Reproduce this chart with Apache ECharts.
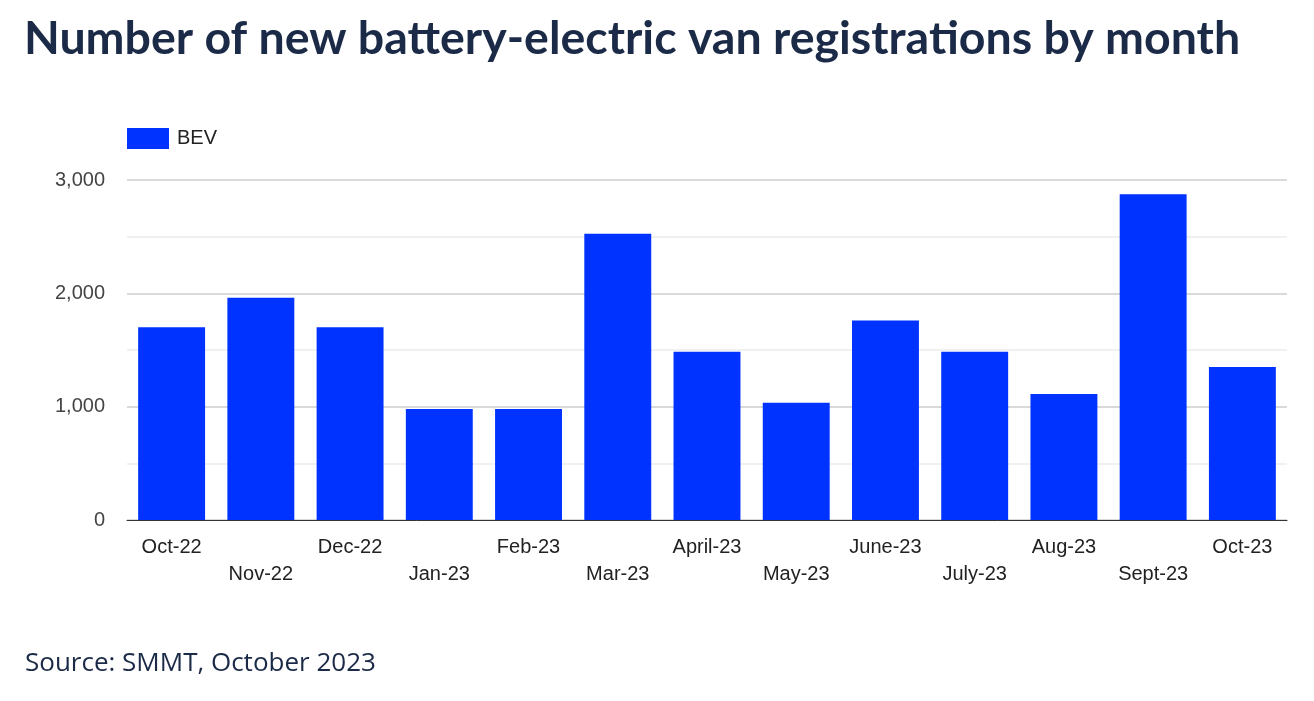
<!DOCTYPE html>
<html><head><meta charset="utf-8">
<script src="https://cdn.jsdelivr.net/npm/echarts@6/dist/echarts.min.js"></script>
<style>html,body{margin:0;padding:0;background:#fff}#c{width:1314px;height:701px}</style>
</head><body><div id="c"></div>
<script>
const categories = ['Oct-22','Nov-22','Dec-22','Jan-23','Feb-23','Mar-23','April-23','May-23','June-23','July-23','Aug-23','Sept-23','Oct-23'];
const bevValues = [1700, 1960, 1700, 980, 980, 2525, 1485, 1035, 1760, 1485, 1112, 2875, 1350];
const yTicks = [0, 1000, 2000, 3000];
const titleText = 'Number of new battery-electric van registrations by month';
const sourceText = 'Source: SMMT, October 2023';

const chart = echarts.init(document.getElementById('c'));
chart.setOption({
  animation: false,
  backgroundColor: '#fff',
  title: [
    { text: titleText, left: 19, top: 10,
      textStyle: { fontFamily: 'Lato', fontWeight: 'bold', fontSize: 46.5, color: '#1b2a47' } },
    { text: sourceText, left: 20, top: 646,
      textStyle: { fontFamily: 'Open Sans', fontWeight: 400, fontSize: 26, color: '#1b2a47' } }
  ],
  legend: {
    left: 122, top: 123, itemWidth: 42, itemHeight: 21, itemGap: 13,
    icon: 'rect',
    textStyle: { fontFamily: 'Liberation Sans', fontSize: 20, color: '#222', padding: [0, 0, 0, 3] },
    data: ['BEV']
  },
  grid: { left: 127, right: 27, top: 180, bottom: 181, containLabel: false },
  xAxis: {
    type: 'category', data: categories,
    axisLine: { lineStyle: { color: '#333', width: 1 } },
    axisTick: { show: false },
    axisLabel: {
      interval: 0, margin: 14,
      fontFamily: 'Liberation Sans', fontSize: 20, color: '#222', lineHeight: 27,
      formatter: (v, i) => (i % 2 === 1 ? '\n' + v : v)
    }
  },
  yAxis: {
    type: 'value', min: yTicks[0], max: yTicks[yTicks.length - 1], interval: 1000,
    axisLine: { show: false }, axisTick: { show: false },
    axisLabel: {
      margin: 22, fontFamily: 'Liberation Sans', fontSize: 20, color: '#444',
      formatter: v => v.toLocaleString('en-US')
    },
    splitLine: { lineStyle: { color: '#cccccc', width: 1.5 } },
    minorTick: { show: false, splitNumber: 2 },
    minorSplitLine: { show: true, lineStyle: { color: '#ebebeb', width: 1.5 } }
  },
  series: [{
    name: 'BEV', type: 'bar', data: bevValues, barWidth: '75%',
    itemStyle: { color: '#0033ff' }
  }]
});
</script></body></html>
